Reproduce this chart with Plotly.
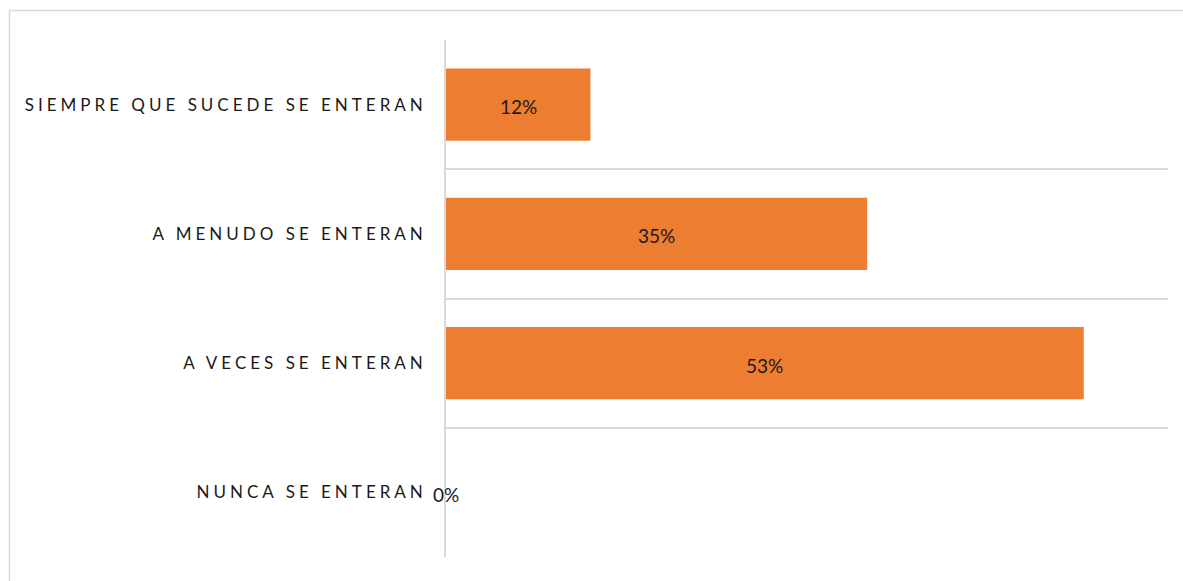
import plotly.graph_objects as go

categories = ["SIEMPRE QUE SUCEDE SE ENTERAN", "A MENUDO SE ENTERAN",
              "A VECES SE ENTERAN", "NUNCA SE ENTERAN"]
values = [0.12, 0.35, 0.53, 0.00]
labels = [f"{round(v*100)}%" for v in values]

BAR = "#ED7D31"
GRID = "#D9D9D9"
FONT = "Lato"

W, H = 1183, 581
L, R, T, B = 446, 15, 40, 24

fig = go.Figure()
fig.add_trace(go.Bar(
    x=values, y=categories, orientation="h",
    marker=dict(color=BAR, line=dict(width=0)),
    width=0.56, hoverinfo="skip", showlegend=False,
))
for v, c, t in zip(values, categories, labels):
    fig.add_annotation(x=v / 2, y=c, text=t, showarrow=False,
                       xanchor="center", yanchor="middle", yshift=-2,
                       font=dict(family=FONT, size=19, color="#1a1a1a"))

pw = W - L - R
ph = H - T - B
x0 = (9.5 - L) / pw
y1 = 1 + (T - 10.5) / ph
fig.add_shape(type="rect", xref="paper", yref="paper",
              x0=x0, x1=1.2, y0=-0.2, y1=y1,
              line=dict(color=GRID, width=1.5), layer="below")

fig.update_layout(
    width=W, height=H,
    margin=dict(l=L, r=R, t=T, b=B),
    paper_bgcolor="white", plot_bgcolor="white",
    font=dict(family=FONT, size=17, color="#1a1a1a"),
    xaxis=dict(range=[0, 0.6], showgrid=False, zeroline=False,
               showticklabels=False, showline=False, fixedrange=True),
    yaxis=dict(categoryorder="array", categoryarray=categories,
               autorange="reversed", tickson="boundaries",
               showgrid=True, gridcolor=GRID, gridwidth=1.5,
               showline=True, linecolor=GRID, linewidth=1.5,
               ticks="", ticklabelstandoff=14,
               tickfont=dict(family=FONT, size=17, color="#1a1a1a"),
               zeroline=False, fixedrange=True),
)

post = """
document.body.style.margin = '0';
document.body.style.padding = '0';
var gd = document.getElementById('{plot_id}');
function ls(){
  gd.querySelectorAll('.ytick text').forEach(function(t){
    t.setAttribute('letter-spacing','4px');
  });
}
ls();
gd.on('plotly_afterplot', ls);
"""
fig.write_html("out.html", post_script=post, config={"displayModeBar": False})
